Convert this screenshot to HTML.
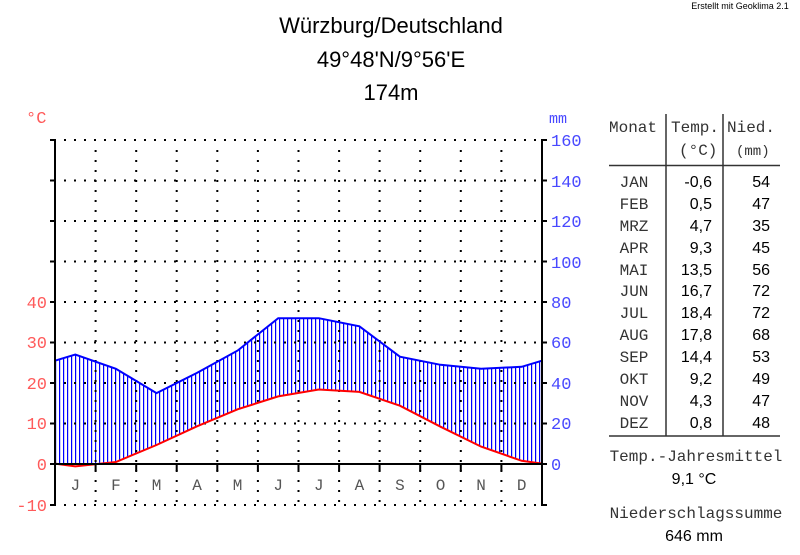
<!DOCTYPE html>
<html><head><meta charset="utf-8"><style>
html,body{margin:0;padding:0;background:#fff;}
svg{display:block}
.m{font-family:"Liberation Mono",monospace;}
.s{font-family:"Liberation Sans",sans-serif;}
</style></head><body>
<svg width="800" height="555" viewBox="0 0 800 555" xmlns="http://www.w3.org/2000/svg">
<defs>
<pattern id="h" x="55" y="0" width="4" height="10" patternUnits="userSpaceOnUse">
<rect x="0" y="0" width="1.2" height="10" fill="#0000ff"/>
</pattern>
</defs>
<text x="740" y="9" class="s" font-size="9" text-anchor="middle" fill="#000">Erstellt mit Geoklima 2.1</text>
<text x="391" y="33" class="s" font-size="22" text-anchor="middle">Würzburg/Deutschland</text>
<text x="391" y="67" class="s" font-size="22" text-anchor="middle">49°48'N/9°56'E</text>
<text x="391" y="100" class="s" font-size="22" text-anchor="middle">174m</text>
<text x="26" y="123" class="m" font-size="17" fill="#ff5a5a">°C</text>
<text x="549" y="123" class="m" font-size="15" fill="#4848ff">mm</text>

<polygon fill="url(#h)" points="55,360.7 75.3,354.6 115.9,368.8 156.5,393.1 197,372.9 237.6,350.6 278.2,318.2 318.8,318.2 359.4,326.3 399.9,356.7 440.5,364.8 481.1,368.8 521.7,366.8 542,360.7 542,463.6 521.7,460.8 481.1,446.6 440.5,426.7 399.9,405.7 359.4,391.9 318.8,389.5 278.2,396.4 237.6,409.3 197,426.3 156.5,445 115.9,462 75.3,464 55,464"/>

<g stroke="#000" stroke-width="2" stroke-dasharray="2,8" fill="none">
<line x1="64" y1="140" x2="542" y2="140"/>
<line x1="64" y1="180.5" x2="542" y2="180.5"/>
<line x1="64" y1="221" x2="542" y2="221"/>
<line x1="64" y1="261.5" x2="542" y2="261.5"/>
<line x1="64" y1="302" x2="542" y2="302"/>
<line x1="64" y1="342.5" x2="542" y2="342.5"/>
<line x1="64" y1="383" x2="542" y2="383"/>
<line x1="64" y1="423.5" x2="542" y2="423.5"/>
<line x1="64" y1="505" x2="542" y2="505"/>
</g>
<g stroke="#000" stroke-width="2" stroke-dasharray="2,8" fill="none">
<line x1="95.6" y1="150" x2="95.6" y2="505"/>
<line x1="136.2" y1="150" x2="136.2" y2="505"/>
<line x1="176.7" y1="150" x2="176.7" y2="505"/>
<line x1="217.3" y1="150" x2="217.3" y2="505"/>
<line x1="257.9" y1="150" x2="257.9" y2="505"/>
<line x1="298.5" y1="150" x2="298.5" y2="505"/>
<line x1="339.1" y1="150" x2="339.1" y2="505"/>
<line x1="379.6" y1="150" x2="379.6" y2="505"/>
<line x1="420.2" y1="150" x2="420.2" y2="505"/>
<line x1="460.8" y1="150" x2="460.8" y2="505"/>
<line x1="501.4" y1="150" x2="501.4" y2="505"/>
</g>

<polyline fill="none" stroke="#0000ff" stroke-width="2" points="55,360.7 75.3,354.6 115.9,368.8 156.5,393.1 197,372.9 237.6,350.6 278.2,318.2 318.8,318.2 359.4,326.3 399.9,356.7 440.5,364.8 481.1,368.8 521.7,366.8 542,360.7"/>
<polyline fill="none" stroke="#ff0000" stroke-width="2" points="55,463.6 75.3,466.4 115.9,462 156.5,445 197,426.3 237.6,409.3 278.2,396.4 318.8,389.5 359.4,391.9 399.9,405.7 440.5,426.7 481.1,446.6 521.7,460.8 542,463.6"/>

<g stroke="#000" stroke-width="2" fill="none">
<line x1="55" y1="139" x2="55" y2="506"/>
<line x1="542" y1="139" x2="542" y2="506"/>
<line x1="50" y1="464" x2="547" y2="464"/>
<path d="M50 140H55M50 180.5H55M50 221H55M50 261.5H55M50 302H55M50 342.5H55M50 383H55M50 423.5H55M50 505H55"/>
<path d="M542 140H547M542 180.5H547M542 221H547M542 261.5H547M542 302H547M542 342.5H547M542 383H547M542 423.5H547M542 505H547"/>
<path d="M95.6 464V471M136.2 464V471M176.7 464V471M217.3 464V471M257.9 464V471M298.5 464V471M339.1 464V471M379.6 464V471M420.2 464V471M460.8 464V471M501.4 464V471"/>
</g>

<g class="m" font-size="17" fill="#ff5a5a" text-anchor="end">
<text x="47" y="308">40</text><text x="47" y="348">30</text><text x="47" y="389">20</text>
<text x="47" y="429">10</text><text x="47" y="470">0</text><text x="47" y="511">-10</text>
</g>
<g class="m" font-size="17" fill="#4848ff">
<text x="551" y="146">160</text><text x="551" y="187">140</text><text x="551" y="227">120</text>
<text x="551" y="268">100</text><text x="551" y="308">80</text><text x="551" y="348">60</text>
<text x="551" y="389">40</text><text x="551" y="429">20</text><text x="551" y="470">0</text>
</g>
<g class="m" font-size="16" fill="#555" text-anchor="middle">
<text x="75.3" y="490">J</text><text x="115.9" y="490">F</text><text x="156.5" y="490">M</text>
<text x="197" y="490">A</text><text x="237.6" y="490">M</text><text x="278.2" y="490">J</text>
<text x="318.8" y="490">J</text><text x="359.4" y="490">A</text><text x="399.9" y="490">S</text>
<text x="440.5" y="490">O</text><text x="481.1" y="490">N</text><text x="521.7" y="490">D</text>
</g>

<g stroke="#333" stroke-width="1.5">
<line x1="666" y1="114" x2="666" y2="436"/>
<line x1="723" y1="114" x2="723" y2="436"/>
<line x1="609" y1="165.5" x2="780" y2="165.5"/>
<line x1="609" y1="436" x2="780" y2="436"/>
</g>
<g class="m" font-size="16" fill="#333">
<text x="609" y="132">Monat</text><text x="671" y="132">Temp.</text><text x="727" y="132">Nied.</text>
<text x="679" y="155">(°C)</text><text x="736" y="155" font-size="14">(mm)</text>
</g>
<g class="m" font-size="16" fill="#333" text-anchor="middle">
<text x="634" y="187">JAN</text><text x="634" y="209">FEB</text><text x="634" y="231">MRZ</text>
<text x="634" y="253">APR</text><text x="634" y="275">MAI</text><text x="634" y="296">JUN</text>
<text x="634" y="318">JUL</text><text x="634" y="340">AUG</text><text x="634" y="362">SEP</text>
<text x="634" y="384">OKT</text><text x="634" y="406">NOV</text><text x="634" y="428">DEZ</text>
</g>
<g class="s" font-size="16" fill="#000" text-anchor="end">
<text x="712" y="187">-0,6</text><text x="712" y="209">0,5</text><text x="712" y="231">4,7</text>
<text x="712" y="253">9,3</text><text x="712" y="275">13,5</text><text x="712" y="296">16,7</text>
<text x="712" y="318">18,4</text><text x="712" y="340">17,8</text><text x="712" y="362">14,4</text>
<text x="712" y="384">9,2</text><text x="712" y="406">4,3</text><text x="712" y="428">0,8</text>
<text x="770" y="187">54</text><text x="770" y="209">47</text><text x="770" y="231">35</text>
<text x="770" y="253">45</text><text x="770" y="275">56</text><text x="770" y="296">72</text>
<text x="770" y="318">72</text><text x="770" y="340">68</text><text x="770" y="362">53</text>
<text x="770" y="384">49</text><text x="770" y="406">47</text><text x="770" y="428">48</text>
</g>
<text x="696" y="461" class="m" font-size="16" fill="#333" text-anchor="middle">Temp.-Jahresmittel</text>
<text x="694" y="484" class="s" font-size="16" text-anchor="middle">9,1 °C</text>
<text x="696" y="518" class="m" font-size="16" fill="#333" text-anchor="middle">Niederschlagssumme</text>
<text x="694" y="541" class="s" font-size="16" text-anchor="middle">646 mm</text>
</svg>
</body></html>
